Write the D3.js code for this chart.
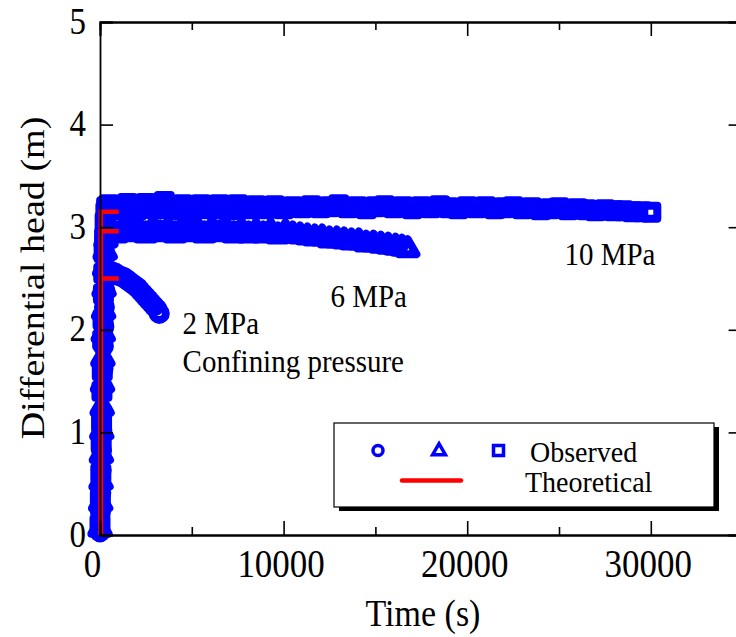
<!DOCTYPE html>
<html>
<head>
<meta charset="utf-8">
<script src="https://cdn.jsdelivr.net/npm/d3@7"></script>
<style>
body { margin: 0; background: #fff; }
text { font-family: "Liberation Serif", "Times New Roman", serif; fill: #000; }
</style>
</head>
<body>
<div id="chart"></div>
<script>
var width = 736, height = 637;

// observed [time s, head m]
var obs2 = [[0,0.03],[25,0.22],[45,0.41],[65,0.63],[85,0.82],[105,1.02],[125,1.21],[145,1.43],[165,1.62],[185,1.84],
  [210,2.03],[240,2.22],[270,2.38],[310,2.49],[400,2.54],[550,2.57],[700,2.56],[850,2.55],[1000,2.53],[1150,2.52],
  [1300,2.51],[1450,2.49],[1600,2.47],[1750,2.45],[1900,2.43],[2050,2.41],[2200,2.38],[2350,2.35],[2500,2.32],
  [2650,2.29],[2800,2.26],[2950,2.23],[3100,2.20],[3230,2.16]];

var obs6 = [[0,0.06],[35,0.31],[55,0.52],[75,0.78],[95,1.01],[115,1.24],[135,1.47],[155,1.72],[175,1.96],[195,2.18],
  [220,2.40],[250,2.60],[280,2.76],[320,2.88],[380,2.95],[500,2.99],[900,2.93],[1300,2.99],[1700,2.94],[2100,2.98],
  [2500,2.93],[2900,2.99],[3300,2.94],[3700,2.98],[4100,2.93],[4500,2.99],[4900,2.94],[5300,2.98],[5700,2.93],
  [6100,2.98],[6500,2.94],[6900,2.97],[7300,2.93],[7700,2.97],[8100,2.93],[8500,2.96],[8900,2.93],[9300,2.96],
  [9700,2.92],[10100,2.95],[10500,2.93],[10900,2.92],[11300,2.91],[11700,2.90],[12100,2.90],[12500,2.88],
  [12900,2.88],[13300,2.87],[13700,2.86],[14100,2.86],[14500,2.84],[14900,2.84],[15300,2.83],[15700,2.82],
  [16100,2.81],[16450,2.80],[16760,2.785]];

var obs10 = [[0,0.10],[20,0.35],[45,0.60],[65,0.90],[85,1.10],[105,1.40],[125,1.60],[145,1.90],[165,2.10],[185,2.35],
  [205,2.55],[225,2.75],[250,2.90],[280,3.05],[320,3.15],[360,3.20],[500,3.22],[1000,3.17],[1500,3.23],[2000,3.17],
  [2500,3.23],[3000,3.18],[3500,3.25],[4000,3.17],[4500,3.22],[5000,3.17],[5500,3.22],[6000,3.18],[6500,3.22],
  [7000,3.17],[7500,3.22],[8000,3.18],[8500,3.21],[9000,3.18],[9500,3.21],[10000,3.18],[10500,3.20],[11000,3.19],
  [11500,3.21],[12000,3.19],[12500,3.20],[13000,3.22],[13500,3.19],[14000,3.20],[14500,3.18],[15000,3.20],
  [15500,3.21],[16000,3.19],[16500,3.20],[17000,3.18],[17500,3.20],[18000,3.19],[18500,3.21],[19000,3.19],
  [19500,3.18],[20000,3.20],[20500,3.19],[21000,3.20],[21500,3.18],[22000,3.19],[22500,3.20],[23000,3.18],
  [23500,3.19],[24000,3.17],[24500,3.18],[25000,3.19],[25500,3.17],[26000,3.18],[26500,3.17],[27000,3.16],
  [27500,3.17],[28000,3.16],[28500,3.16],[29000,3.15],[29500,3.15],[30000,3.145]];

// theoretical
var theo2 = [[45,0],[45,2.50],[1020,2.50]];
var theo6 = [[45,0],[45,2.96],[1020,2.96]];
var theo10 = [[45,0],[45,3.15],[1020,3.15]];

var xMajor = [0, 10000, 20000, 30000];
var xMinor = [5000, 15000, 25000, 35000];
var yTicks = [0, 1, 2, 3, 4, 5];

var labels = [
  {text: "2 MPa", t: 4500, h: 1.96},
  {text: "Confining pressure", t: 4500, h: 1.59},
  {text: "6 MPa", t: 12550, h: 2.22},
  {text: "10 MPa", t: 25300, h: 2.63}
];

var blue = "#0000ff", red = "#ff0000";
var stretch = 1.12; // glyphs in the original are a bit taller than wide

var svg = d3.select("#chart").append("svg")
  .attr("width", width).attr("height", height);

var x = d3.scaleLinear().domain([0, 35000]).range([100, 742.6]);
var y = d3.scaleLinear().domain([0, 5]).range([535, 22]);

var line = d3.line().x(d => x(d[0])).y(d => y(d[1]));

// observed markers, packed so densely they read as a band
function drawSeries(data, shape) {
  var g = svg.append("g");
  if (shape == "circle") {
    g.selectAll("circle").data(data).enter().append("circle")
      .attr("cx", d => x(d[0])).attr("cy", d => y(d[1])).attr("r", 6.5)
      .style("fill", "#fff").style("stroke", blue).style("stroke-width", 8);
  } else {
    var sym = shape == "square" ? d3.symbol(d3.symbolSquare, 169) : d3.symbol(d3.symbolTriangle, 130);
    g.selectAll("path").data(data).enter().append("path")
      .attr("d", sym)
      .attr("transform", d => "translate(" + x(d[0]) + "," + y(d[1]) + ")")
      .style("fill", "#fff").style("stroke", blue).style("stroke-width", 8)
      .style("stroke-linejoin", "round");
  }
  // fill the hollow centres of all but the last marker
  g.append("path").datum(data.slice(0, -1)).attr("d", line)
    .style("fill", "none").style("stroke", blue).style("stroke-width", 12)
    .style("stroke-linejoin", "round").style("stroke-linecap", "round");
}
drawSeries(obs10, "square");
drawSeries(obs6, "triangle");
drawSeries(obs2, "circle");

[theo2, theo6, theo10].forEach(function(t) {
  svg.append("path").datum(t).attr("d", line)
    .style("fill", "none").style("stroke", red).style("stroke-width", 4.5);
});

// axes, ticks pointing inward
var bottom = svg.append("g").attr("transform", "translate(0,535)")
  .call(d3.axisBottom(x).tickValues(xMajor).tickSize(-14).tickPadding(14).tickFormat(d3.format("d")));
svg.append("g").attr("transform", "translate(0,535)")
  .call(d3.axisBottom(x).tickValues(xMinor).tickSize(-8).tickFormat(""));
svg.append("g").attr("transform", "translate(0,22)")
  .call(d3.axisTop(x).tickValues(xMajor).tickSize(-14).tickFormat(""));
svg.append("g").attr("transform", "translate(0,22)")
  .call(d3.axisTop(x).tickValues(xMinor).tickSize(-8).tickFormat(""));
var left = svg.append("g").attr("transform", "translate(100,0)")
  .call(d3.axisLeft(y).tickValues(yTicks).tickSize(-13).tickPadding(14).tickFormat(d3.format("d")));
svg.append("g").attr("transform", "translate(742.6,0)")
  .call(d3.axisRight(y).tickValues(yTicks).tickSize(-14).tickFormat(""));

svg.selectAll(".domain").style("stroke", "#000").style("stroke-width", 1.8);
svg.selectAll(".tick line").style("stroke", "#000").style("stroke-width", 1.6);

bottom.selectAll(".tick text")
  .style("font-size", "35px")
  .attr("y", null).attr("dy", null)
  .attr("transform", d => "translate(" + (d == 0 ? -8 : -3) + ",42) scale(1," + stretch + ")");
left.selectAll(".tick text")
  .style("font-size", "33px")
  .attr("dy", null)
  .attr("transform", "translate(0,11) scale(1," + stretch + ")");

// titles
svg.append("text").attr("transform", "translate(423,626) scale(1," + stretch + ")")
  .attr("text-anchor", "middle").style("font-size", "34px").text("Time (s)");
svg.append("text").attr("transform", "translate(44,278) rotate(-90) scale(" + stretch + ",1)")
  .attr("text-anchor", "middle").style("font-size", "34px").text("Differential head (m)");

// annotations
labels.forEach(function(l) {
  svg.append("text")
    .attr("transform", "translate(" + x(l.t) + "," + y(l.h) + ") scale(1," + stretch + ")")
    .style("font-size", "29px").text(l.text);
});

// legend
var lg = svg.append("g");
lg.append("rect").attr("x", 339).attr("y", 427).attr("width", 380).attr("height", 84).style("fill", "#000");
lg.append("rect").attr("x", 334).attr("y", 423).attr("width", 380).attr("height", 84)
  .style("fill", "#fff").style("stroke", "#000").style("stroke-width", 1.2);
lg.append("circle").attr("cx", 378).attr("cy", 450.5).attr("r", 5)
  .style("fill", "#fff").style("stroke", blue).style("stroke-width", 3.5);
lg.append("path").attr("d", d3.symbol(d3.symbolTriangle, 70)).attr("transform", "translate(439,451)")
  .style("fill", "#fff").style("stroke", blue).style("stroke-width", 3.5);
lg.append("path").attr("d", d3.symbol(d3.symbolSquare, 100)).attr("transform", "translate(498.5,450.5)")
  .style("fill", "#fff").style("stroke", blue).style("stroke-width", 3.5);
lg.append("line").attr("x1", 402).attr("x2", 461).attr("y1", 480.5).attr("y2", 480.5)
  .style("stroke", red).style("stroke-width", 4.5).style("stroke-linecap", "round");
lg.append("text").attr("transform", "translate(530,461.5) scale(1,1.05)")
  .style("font-size", "28px").text("Observed");
lg.append("text").attr("transform", "translate(525,491.5) scale(1,1.05)")
  .style("font-size", "28px").text("Theoretical");
</script>
</body>
</html>
